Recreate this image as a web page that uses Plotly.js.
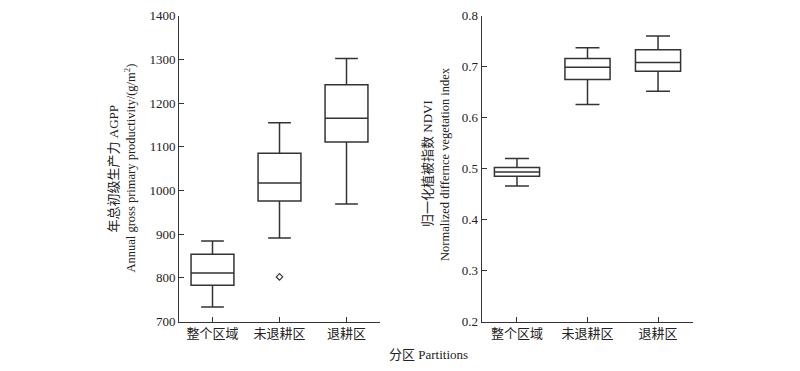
<!DOCTYPE html>
<html>
<head>
<meta charset="utf-8">
<script src="https://cdn.plot.ly/plotly-3.0.1.min.js"></script>
<style>html,body{margin:0;padding:0;background:#fff;}#chart{width:800px;height:371px;}</style>
</head>
<body>
<div id="chart"></div>
<script>
const categories = ['整个区域', '未退耕区', '退耕区'];

const agppLower  = [733, 891, 969];
const agppQ1     = [783, 976, 1111];
const agppMedian = [811, 1017, 1165];
const agppQ3     = [854, 1085, 1242];
const agppUpper  = [884, 1155, 1302];
const agppOutlierCat = ['未退耕区'];
const agppOutlierVal = [802];

const ndviLower  = [0.466, 0.626, 0.652];
const ndviQ1     = [0.485, 0.675, 0.691];
const ndviMedian = [0.4935, 0.699, 0.708];
const ndviQ3     = [0.502, 0.716, 0.733];
const ndviUpper  = [0.520, 0.737, 0.760];

const agppTicks = [700, 800, 900, 1000, 1100, 1200, 1300, 1400];
const ndviTicks = [0.2, 0.3, 0.4, 0.5, 0.6, 0.7, 0.8];

const FONT = "Liberation Serif, Times New Roman, Noto Sans CJK SC, serif";
const INK = '#333333';

const boxStyle = {
  type: 'box',
  fillcolor: '#ffffff',
  line: {color: INK, width: 1.5},
  whiskerwidth: 0.53,
  width: 0.64,
  boxpoints: false,
  showlegend: false,
  hoverinfo: 'skip'
};

const traces = [
  Object.assign({}, boxStyle, {
    x: categories, q1: agppQ1, median: agppMedian, q3: agppQ3,
    lowerfence: agppLower, upperfence: agppUpper,
    xaxis: 'x', yaxis: 'y'
  }),
  {
    type: 'scatter', mode: 'markers',
    x: agppOutlierCat, y: agppOutlierVal,
    marker: {symbol: 'diamond-open', size: 5, color: INK, line: {width: 1.2, color: INK}},
    showlegend: false, xaxis: 'x', yaxis: 'y', hoverinfo: 'skip'
  },
  Object.assign({}, boxStyle, {
    x: categories, q1: ndviQ1, median: ndviMedian, q3: ndviQ3,
    lowerfence: ndviLower, upperfence: ndviUpper,
    xaxis: 'x2', yaxis: 'y2'
  })
];

const xBase = {
  type: 'category',
  categoryorder: 'array', categoryarray: categories,
  range: [-0.5, 2.5],
  showline: true, linecolor: INK, linewidth: 1,
  ticks: 'inside', ticklen: 5, tickcolor: INK, tickwidth: 1,
  showgrid: false, zeroline: false,
  tickfont: {family: FONT, size: 13, color: '#222'},
  fixedrange: true
};
const yBase = {
  showline: true, linecolor: INK, linewidth: 1,
  ticks: 'inside', ticklen: 5, tickcolor: INK, tickwidth: 1,
  showgrid: false, zeroline: false,
  tickfont: {family: FONT, size: 13, color: '#222'},
  fixedrange: true
};

const yDom = [1 - 321.5 / 371, 1 - 15.7 / 371];

const layout = {
  width: 800, height: 371,
  margin: {l: 0, r: 0, t: 0, b: 0},
  paper_bgcolor: '#ffffff', plot_bgcolor: '#ffffff',
  font: {family: FONT, color: '#222'},
  xaxis: Object.assign({}, xBase, {domain: [179 / 800, 380 / 800], anchor: 'y'}),
  yaxis: Object.assign({}, yBase, {domain: yDom, anchor: 'x', range: [700, 1400], tickvals: agppTicks}),
  xaxis2: Object.assign({}, xBase, {domain: [481.7 / 800, 693.3 / 800], anchor: 'y2'}),
  yaxis2: Object.assign({}, yBase, {domain: yDom, anchor: 'x2', range: [0.2, 0.8], tickvals: ndviTicks, tickformat: '.1f'}),
  annotations: [
    {text: '年总初级生产力 AGPP', xref: 'paper', yref: 'paper', x: 113 / 800, y: 1 - 168.5 / 371,
     xanchor: 'center', yanchor: 'middle', textangle: -90, showarrow: false, font: {family: FONT, size: 13, color: '#222'}},
    {text: 'Annual gross primary productivity/(g/m<sup>2</sup>)', xref: 'paper', yref: 'paper', x: 129 / 800, y: 1 - 168.5 / 371,
     xanchor: 'center', yanchor: 'middle', textangle: -90, showarrow: false, font: {family: FONT, size: 12.5, color: '#222'}},
    {text: '归一化植被指数 NDVI', xref: 'paper', yref: 'paper', x: 428 / 800, y: 1 - 164 / 371,
     xanchor: 'center', yanchor: 'middle', textangle: -90, showarrow: false, font: {family: FONT, size: 13, color: '#222'}},
    {text: 'Normalized differnce vegetation index', xref: 'paper', yref: 'paper', x: 445 / 800, y: 1 - 164 / 371,
     xanchor: 'center', yanchor: 'middle', textangle: -90, showarrow: false, font: {family: FONT, size: 12.5, color: '#222'}},
    {text: '分区 Partitions', xref: 'paper', yref: 'paper', x: 428 / 800, y: 1 - 354 / 371,
     xanchor: 'center', yanchor: 'middle', showarrow: false, font: {family: FONT, size: 13, color: '#222'}}
  ]
};

Plotly.newPlot('chart', traces, layout, {displayModeBar: false, staticPlot: true});
</script>
</body>
</html>
